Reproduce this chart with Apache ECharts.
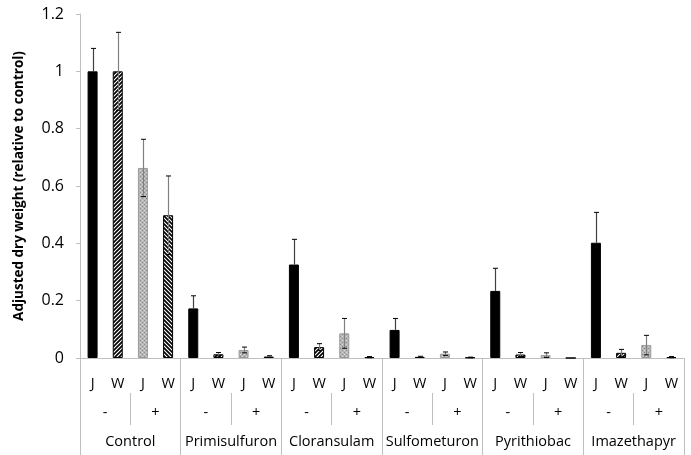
<!DOCTYPE html>
<html>
<head>
<meta charset="utf-8">
<script src="https://cdn.jsdelivr.net/npm/echarts@6/dist/echarts.min.js"></script>
<style>
  html, body { margin: 0; padding: 0; background: #fff; }
  #chart { width: 691px; height: 455px; }
</style>
</head>
<body>
<div id="chart"></div>
<script>
// data
var herbicides = ['Control', 'Primisulfuron', 'Cloransulam', 'Sulfometuron', 'Pyrithiobac', 'Imazethapyr'];
var treatments = ['-', '+'];
var species = ['J', 'W'];
// order inside each herbicide: J-, W-, J+, W+
var weight = [
    1.0, 1.0, 0.663, 0.498,
    0.173, 0.013, 0.028, 0.005,
    0.326, 0.038, 0.086, 0.003,
    0.098, 0.004, 0.015, 0.002,
    0.234, 0.012, 0.010, 0,
    0.402, 0.018, 0.045, 0.003
];
var stdErr = [
    0.080, 0.136, 0.100, 0.137,
    0.044, 0.006, 0.010, 0.003,
    0.088, 0.012, 0.052, 0.002,
    0.040, 0.002, 0.006, 0.001,
    0.079, 0.007, 0.008, 0,
    0.106, 0.012, 0.034, 0.002
];
var yTicks = [0, 0.2, 0.4, 0.6, 0.8, 1, 1.2];

var level1 = [];
var level2 = [];
for (var h = 0; h < herbicides.length; h++) {
    for (var t = 0; t < treatments.length; t++) {
        level2.push(treatments[t]);
        for (var s = 0; s < species.length; s++) {
            level1.push(species[s]);
        }
    }
}

// little repeating tiles for the hatch / dot fills
function hatch(dir) {
    var c = document.createElement('canvas');
    c.width = 4; c.height = 4;
    var g = c.getContext('2d');
    g.fillStyle = '#fff';
    g.fillRect(0, 0, 4, 4);
    g.strokeStyle = '#000';
    g.lineWidth = 1.7;
    g.beginPath();
    if (dir > 0) {
        g.moveTo(-1, 5); g.lineTo(5, -1);
        g.moveTo(-1, 1); g.lineTo(1, -1);
        g.moveTo(3, 5); g.lineTo(5, 3);
    } else {
        g.moveTo(-1, -1); g.lineTo(5, 5);
        g.moveTo(-1, 3); g.lineTo(1, 5);
        g.moveTo(3, -1); g.lineTo(5, 1);
    }
    g.stroke();
    return c;
}
function dots() {
    var c = document.createElement('canvas');
    c.width = 4; c.height = 4;
    var g = c.getContext('2d');
    g.fillStyle = '#b8b8b8';
    g.fillRect(0, 0, 4, 4);
    g.fillStyle = '#8a8a8a';
    g.fillRect(0, 0, 1, 1);
    g.fillRect(2, 2, 1, 1);
    g.fillStyle = '#d4d4d4';
    g.fillRect(2, 0, 1, 1);
    g.fillRect(0, 2, 1, 1);
    return c;
}

var styles = [
    { color: '#000', borderColor: '#000', borderWidth: 1 },
    { color: { image: hatch(1), repeat: 'repeat' }, borderColor: '#000', borderWidth: 1 },
    { color: { image: dots(), repeat: 'repeat' }, borderColor: '#999', borderWidth: 1 },
    { color: { image: hatch(-1), repeat: 'repeat' }, borderColor: '#000', borderWidth: 1 }
];

var barData = weight.map(function (v, i) {
    return { value: v, itemStyle: styles[i % 4] };
});
var errData = weight.map(function (v, i) {
    return [i, v, stdErr[i]];
});

var font = 'Open Sans';
var chart = echarts.init(document.getElementById('chart'));
chart.setOption({
    animation: false,
    grid: { left: 80, right: 7, top: 14, bottom: 97 },
    xAxis: [{
        type: 'category',
        data: level1,
        position: 'bottom',
        axisLine: { lineStyle: { color: '#bfbfbf', width: 1 } },
        axisTick: { interval: 0, length: 35, lineStyle: { color: '#bfbfbf' } },
        axisLabel: { interval: 0, margin: 18, color: '#000', fontSize: 14.5, fontFamily: font }
    }, {
        type: 'category',
        data: level2,
        position: 'bottom',
        offset: 35,
        axisLine: { show: false },
        axisTick: { show: true, interval: 0, length: 32, lineStyle: { color: '#bfbfbf' } },
        axisLabel: { interval: 0, margin: 12, color: '#000', fontSize: 14.5, fontFamily: font }
    }, {
        type: 'category',
        data: herbicides,
        position: 'bottom',
        offset: 0,
        axisLine: { show: false },
        axisTick: { show: true, interval: 0, length: 97, lineStyle: { color: '#bfbfbf' } },
        axisLabel: { interval: 0, margin: 76, color: '#000', fontSize: 14.5, fontFamily: font }
    }],
    yAxis: {
        type: 'value',
        min: 0,
        max: 1.2,
        interval: 0.2,
        name: 'Adjusted dry weight (relative to control)',
        nameLocation: 'middle',
        nameGap: 54,
        nameTextStyle: { fontSize: 13.5, fontWeight: 'bold', color: '#000', fontFamily: font },
        axisLine: { show: true, lineStyle: { color: '#bfbfbf' } },
        axisTick: { show: true, length: 4, lineStyle: { color: '#bfbfbf' } },
        splitLine: { show: false },
        axisLabel: {
            margin: 16, color: '#000', fontSize: 16, fontFamily: font,
            formatter: function (v) { return yTicks.indexOf(+v.toFixed(1)) >= 0 ? String(+v.toFixed(1)) : ''; }
        }
    },
    series: [{
        type: 'bar',
        xAxisIndex: 0,
        barWidth: 10,
        data: barData,
        z: 2
    }, {
        type: 'custom',
        xAxisIndex: 0,
        z: 3,
        encode: { x: 0, y: 1 },
        data: errData,
        renderItem: function (params, api) {
            var i = api.value(0), v = api.value(1), e = api.value(2);
            if (!e) return null;
            var top = api.coord([i, v + e]);
            var bot = api.coord([i, i % 4 === 0 ? v : v - e]);
            var x = Math.round(top[0]) + 0.5;
            var stemColor = i % 4 === 0 ? '#404040' : '#808080';
            var kids = [{
                type: 'line',
                shape: { x1: x, y1: top[1], x2: x, y2: bot[1] },
                style: { stroke: stemColor, lineWidth: 1.2 }
            }, {
                type: 'line',
                shape: { x1: x - 2.5, y1: top[1], x2: x + 2.5, y2: top[1] },
                style: { stroke: '#000', lineWidth: 1 }
            }];
            if (i % 4 !== 0) {
                kids.push({
                    type: 'line',
                    shape: { x1: x - 2.5, y1: bot[1], x2: x + 2.5, y2: bot[1] },
                    style: { stroke: '#000', lineWidth: 1 }
                });
            }
            return { type: 'group', children: kids };
        }
    }]
});
</script>
</body>
</html>
